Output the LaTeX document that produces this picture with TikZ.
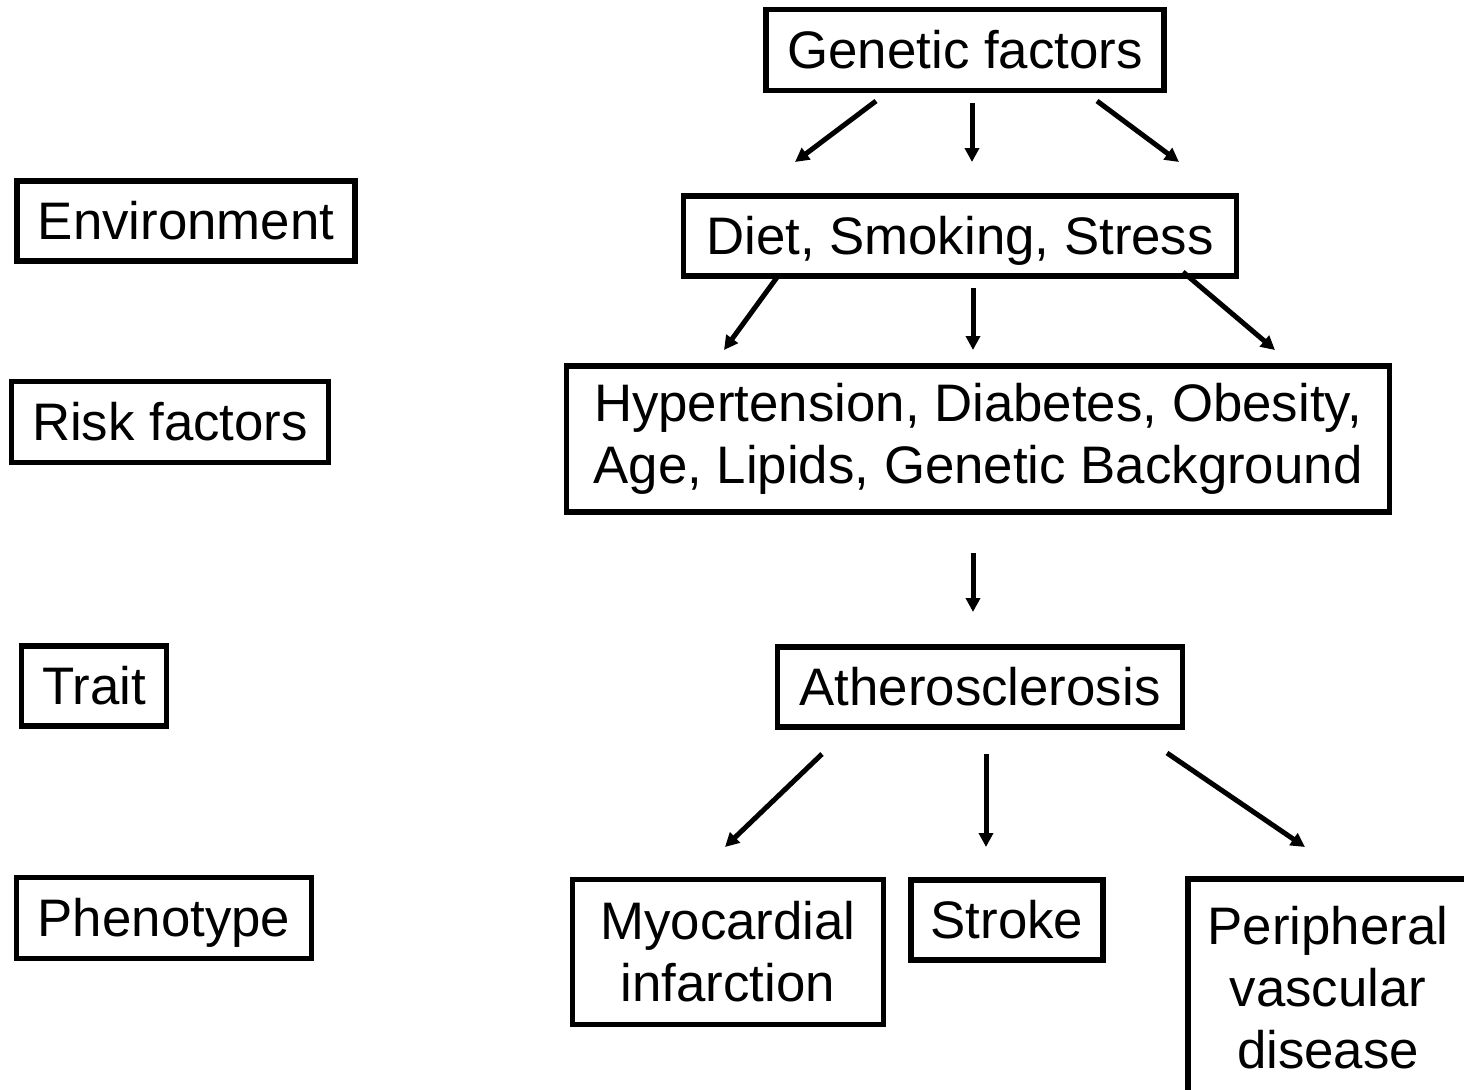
\documentclass[tikz,border=0pt]{standalone}
\usepackage{fontspec}
\setmainfont{Liberation Sans}
\usetikzlibrary{arrows.meta}
\begin{document}
\begin{tikzpicture}[x=0.5pt,y=-0.5pt,
  box/.style={draw=black,line width=2.6pt,inner sep=0pt,font=\fontsize{26.4}{31}\selectfont,text height=23.8pt,text depth=5.5pt},
  mbox/.style={draw=black,line width=2.6pt,inner sep=0pt,align=center,font=\fontsize{26.4}{31}\selectfont},
  arr/.style={line width=2.5pt,-{Triangle[length=7pt,width=7pt]}}]
\useasboundingbox (0,0) rectangle (1464,1089);
\clip (0,0) rectangle (1464,1089);
\fill[white] (0,0) rectangle (1464,1089);
% left labels
\node[box,minimum width=169pt,minimum height=40pt] (env) at (186,221) {Environment};
\node[box,minimum width=158.5pt,minimum height=40.5pt] (risk) at (170,422) {Risk factors};
\node[box,minimum width=72.5pt,minimum height=40pt] (trait) at (94,686) {Trait};
\node[box,minimum width=147.5pt,minimum height=40.5pt] (pheno) at (164,918) {Phenotype};
% main column
\node[box,minimum width=199pt,minimum height=40.5pt] (gen) at (965,50) {Genetic factors};
\node[box,minimum width=276.5pt,minimum height=40pt] (diet) at (960,236) {Diet, Smoking, Stress};
\node[mbox,minimum width=411.5pt,minimum height=73pt] (hyp) at (978,439) {Hypertension, Diabetes, Obesity,\\Age, Lipids, Genetic Background};
\node[box,minimum width=202.5pt,minimum height=40pt] (ath) at (980,687) {Atherosclerosis};
\node[mbox,minimum width=155.5pt,minimum height=72.5pt] (mi) at (728,952) {Myocardial\\infarction};
\node[box,minimum width=96pt,minimum height=40pt] (stroke) at (1007,920) {Stroke};
\node[mbox,minimum width=140pt,minimum height=109pt] (pvd) at (1328,988) {Peripheral\\vascular\\disease};
% arrow end points
\coordinate (a1s) at (876,101); \coordinate (a1e) at (795,162);
\coordinate (a2s) at (972,103); \coordinate (a2e) at (972,162);
\coordinate (a3s) at (1097,101); \coordinate (a3e) at (1179,162);
\coordinate (a4s) at (778,276); \coordinate (a4e) at (724,350);
\coordinate (a5s) at (973,288); \coordinate (a5e) at (973,350);
\coordinate (a6s) at (1183,272); \coordinate (a6e) at (1275,350);
\coordinate (a7s) at (973,553); \coordinate (a7e) at (973,612);
\coordinate (a8s) at (822,754); \coordinate (a8e) at (725,847);
\coordinate (a9s) at (986,754); \coordinate (a9e) at (986,847);
\coordinate (a10s) at (1167,753); \coordinate (a10e) at (1305,847);
\foreach \i in {1,...,10} {\draw[arr] (a\i s) -- (a\i e);}
\end{tikzpicture}
\end{document}
